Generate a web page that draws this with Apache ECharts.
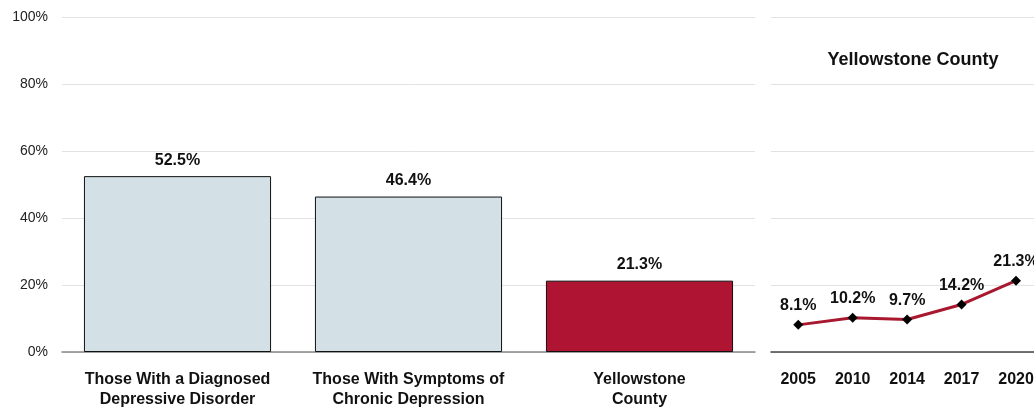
<!DOCTYPE html>
<html><head><meta charset="utf-8">
<script src="https://cdn.jsdelivr.net/npm/echarts@6/dist/echarts.min.js"></script>
<style>html,body{margin:0;padding:0;background:#fff}#c{width:1034px;height:409px}</style>
</head><body><div id="c"></div>
<script>
const barCategories = ['Those With a Diagnosed\nDepressive Disorder', 'Those With Symptoms of\nChronic Depression', 'Yellowstone\nCounty'];
const barValues = [52.5, 46.4, 21.3];
const barColors = ['#D3E0E5', '#D3E0E5', '#B01433'];
const years = ['2005', '2010', '2014', '2017', '2020'];
const trendValues = [8.1, 10.2, 9.7, 14.2, 21.3];
const yTicks = [0, 20, 40, 60, 80, 100];
const panelTitle = 'Yellowstone County';

const FONT = '"Liberation Sans", Arial, sans-serif';
const chart = echarts.init(document.getElementById('c'), null, {renderer: 'canvas'});
chart.setOption({
  animation: false,
  textStyle: {fontFamily: FONT},
  title: {text: panelTitle, left: 908, top: 46, textAlign: 'center',
    textStyle: {fontFamily: FONT, fontSize: 18, fontWeight: 'bold', color: '#111'}},
  grid: [
    {left: 62, right: 279, top: 17, bottom: 57, outerBoundsMode: 'none'},
    {left: 771, right: 0, top: 17, bottom: 57, outerBoundsMode: 'none'}
  ],
  xAxis: [
    {type: 'category', gridIndex: 0, data: barCategories,
      axisTick: {show: false}, axisLine: {lineStyle: {color: '#888', width: 1.5}},
      axisLabel: {interval: 0, color: '#111', fontWeight: 'bold', fontSize: 16, lineHeight: 20, margin: 18, fontFamily: FONT}},
    {type: 'value', gridIndex: 1, min: -0.5, max: 4.33,
      splitLine: {show: false}, axisTick: {show: false},
      axisLine: {lineStyle: {color: '#444', width: 1.5}},
      axisLabel: {customValues: [0, 1, 2, 3, 4], formatter: v => years[Math.round(v)] || '',
        color: '#111', fontWeight: 'bold', fontSize: 16, margin: 20, fontFamily: FONT}}
  ],
  yAxis: [
    {type: 'value', gridIndex: 0, min: 0, max: 100, interval: 20,
      axisLine: {show: false}, axisTick: {show: false},
      splitLine: {lineStyle: {color: '#e2e2e2', width: 1}},
      axisLabel: {formatter: v => yTicks.includes(v) ? v + '%' : '', color: '#222', fontSize: 14, margin: 14, fontFamily: FONT}},
    {type: 'value', gridIndex: 1, min: 0, max: 100, interval: 20,
      axisLine: {show: false}, axisTick: {show: false}, axisLabel: {show: false},
      splitLine: {lineStyle: {color: '#e2e2e2', width: 1}}}
  ],
  series: [
    {type: 'bar', xAxisIndex: 0, yAxisIndex: 0, barWidth: '81%',
      data: barValues.map((v, i) => ({value: v, itemStyle: {color: barColors[i]}})),
      itemStyle: {borderColor: '#111', borderWidth: 1},
      label: {show: true, position: 'top', distance: 8, formatter: p => p.value.toFixed(1) + '%',
        color: '#111', fontWeight: 'bold', fontSize: 16, fontFamily: FONT}},
    {type: 'line', xAxisIndex: 1, yAxisIndex: 1, data: trendValues.map((v, i) => [i, v]),
      symbol: 'diamond', symbolSize: 10, lineStyle: {color: '#A8182F', width: 3},
      itemStyle: {color: '#000'},
      label: {show: true, position: 'top', distance: 6, formatter: p => p.value[1].toFixed(1) + '%',
        color: '#111', fontWeight: 'bold', fontSize: 16, fontFamily: FONT}}
  ]
});
</script></body></html>
